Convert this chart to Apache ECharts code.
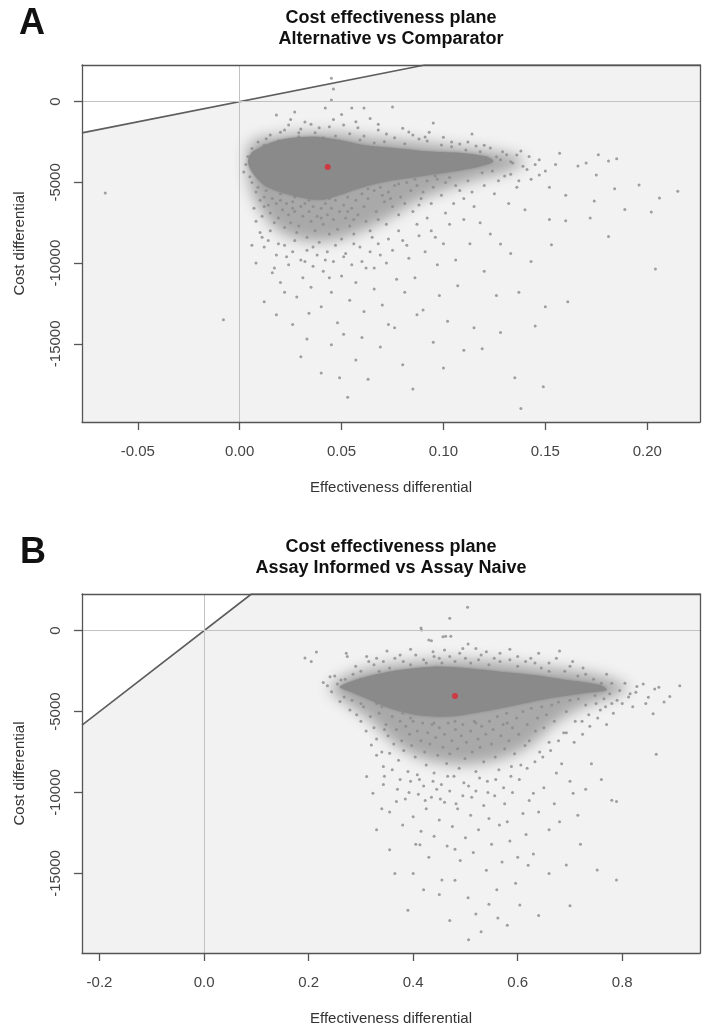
<!DOCTYPE html>
<html>
<head>
<meta charset="utf-8">
<title>Cost effectiveness planes</title>
<script src="https://cdn.jsdelivr.net/npm/echarts@6/dist/echarts.min.js"></script>
<style>
  html, body { margin: 0; padding: 0; background: #fff; }
  #main { width: 704px; height: 1032px; }
</style>
</head>
<body>
<div id="main"></div>
<script>
// threshold slope of the diagonal (cost per unit of effect)
const wtp = 25000;

// axis limits and tick labels
const xRangeA = [-0.0774, 0.2259];
const yRangeA = [-19840, 2270];
const xTicksA = [-0.05, 0, 0.05, 0.10, 0.15, 0.20];
const xRangeB = [-0.2335, 0.9487];
const yRangeB = [-19915, 2265];
const xTicksB = [-0.2, 0, 0.2, 0.4, 0.6, 0.8];
const yTicks = [0, -5000, -10000, -15000];

// mean of the simulations (red dot)
const meanA = [0.0432, -4040];
const meanB = [0.480, -4030];

// outline of the solid, saturated part of each cloud
const coreA = [[0.0065,-3094],[0.0196,-2370],[0.0360,-2166],[0.0491,-2370],[0.0606,-2680],[0.0769,-2885],[0.0933,-3094],[0.1096,-3193],[0.1211,-3403],[0.1244,-3713],[0.1178,-4022],[0.1047,-4332],[0.0884,-4641],[0.0720,-4950],[0.0589,-5359],[0.0491,-5774],[0.0393,-6083],[0.0246,-5774],[0.0131,-5260],[0.0065,-4431],[0.0041,-3713]];
const coreB = [[0.2597,-3457],[0.3108,-2840],[0.3746,-2426],[0.4383,-2222],[0.5022,-2321],[0.5660,-2531],[0.6297,-2735],[0.6936,-3043],[0.7574,-3352],[0.7702,-3660],[0.7254,-3864],[0.6617,-4173],[0.5979,-4587],[0.5340,-5000],[0.4703,-5309],[0.4065,-5204],[0.3554,-4790],[0.3172,-4278],[0.2789,-3766]];

// outline of the crowded, speckled zone round each core
const haloA = [[0.0039,-2865],[0.0088,-2300],[0.0196,-2100],[0.0344,-1900],[0.0491,-1950],[0.0638,-2200],[0.0835,-2450],[0.1031,-2750],[0.1228,-3050],[0.1350,-3350],[0.1399,-3793],[0.1301,-4350],[0.1154,-4845],[0.1007,-5464],[0.0884,-6083],[0.0761,-7011],[0.0638,-7815],[0.0516,-8434],[0.0383,-8682],[0.0260,-8434],[0.0172,-7815],[0.0108,-6826],[0.0064,-5773],[0.0039,-4536]];
const haloB = [[0.2406,-3537],[0.2693,-2796],[0.3076,-2400],[0.3554,-2100],[0.4128,-1900],[0.4703,-1800],[0.5277,-1850],[0.5851,-2000],[0.6425,-2250],[0.6999,-2450],[0.7535,-2750],[0.7918,-3150],[0.8110,-3537],[0.7803,-4093],[0.7344,-4587],[0.6923,-5266],[0.6616,-6006],[0.6329,-6871],[0.5947,-7611],[0.5468,-8105],[0.4894,-8291],[0.4320,-8044],[0.3880,-7488],[0.3516,-6624],[0.3210,-5636],[0.2904,-4895],[0.2636,-4278]];

// individual simulations outside the solid core, panel A
const pointsA = [
  [0.045,1450],[0.046,780],[0.045,100],[0.042,-390],[0.055,-390],[0.061,-390],[0.075,-330],[0.027,-640],[0.018,-820],[0.095,-1320],[0.114,-2000],
  [0.024,-1440],[0.032,-1260],[0.039,-1620],[0.051,-1440],[0.068,-1750],[0.083,-1880],[0.029,-1930],[0.015,-2060],[0.022,-1750],[0.037,-1930],[0.054,-1990],[0.061,-2120],[0.076,-2240],[0.088,-2310],[0.013,-2300],[0.009,-2500],[0.019,-2430],[0.047,-2120],[0.029,-2180],[0.041,-2240],[0.059,-2370],[0.071,-2490],[0.081,-2610],[0.099,-2680],[0.104,-2800],[0.111,-2990],[0.118,-3100],[0.126,-3420],[0.092,-2430],[0.066,-2560],[0.035,-1400],[0.046,-1100],[0.058,-1620],[0.072,-2000],[0.091,-2190],[0.104,-2500],[0.116,-2740],[0.123,-2870],[0.131,-3290],[0.133,-3720],[0.108,-2620],[0.085,-2060],[0.006,-2900],[0.004,-3400],[0.003,-3900],[0.002,-4350],[0.005,-4650],
  [0.128,-3600],[0.134,-3800],[0.141,-4200],[0.147,-4550],[0.157,-3200],[0.166,-3980],[0.170,-3800],[0.175,-4550],[0.176,-3290],[0.181,-3670],[0.185,-3540],[0.147,-3600],[0.155,-3900],[0.138,-3050],[0.143,-4800],[0.137,-4900],[0.152,-5300],[0.160,-5800],[0.174,-6150],[0.184,-5400],[0.196,-5160],[0.206,-5960],[0.215,-5550],[0.189,-6680],[0.202,-6830],[0.172,-7200],[0.160,-7370],[0.152,-7300],[0.153,-8860],[0.181,-8350],[0.204,-10370],[0.143,-9900],[0.133,-9400],[0.128,-8820],[0.123,-8200],[0.118,-7500],[0.115,-6500],[0.125,-5700],[0.132,-6300],[0.140,-6700],[0.150,-12700],[0.161,-12400],[0.137,-11800],[0.145,-13900],[0.108,-5500],[0.112,-4900],[0.119,-4400],[0.124,-4300],[0.130,-4600],[0.136,-5300],
  [0.006,-5000],[0.008,-5600],[0.010,-6100],[0.007,-6600],[0.012,-5900],[0.011,-7100],[0.014,-6400],[0.016,-6000],[0.015,-6900],[0.018,-6300],[0.017,-7500],[0.020,-6100],[0.021,-6700],[0.019,-7200],[0.023,-6300],[0.024,-7000],[0.022,-7800],[0.026,-6200],[0.027,-6800],[0.025,-7500],[0.028,-8100],[0.030,-6500],[0.031,-7100],[0.029,-7700],[0.032,-6300],[0.033,-8400],[0.034,-6800],[0.035,-7400],[0.036,-6500],[0.037,-8000],[0.038,-7100],[0.040,-6600],[0.041,-7600],[0.039,-8700],[0.042,-6300],[0.043,-7000],[0.044,-8200],[0.045,-6600],[0.046,-7300],[0.047,-6100],[0.048,-7900],[0.049,-6800],[0.050,-8500],[0.051,-6400],[0.052,-7200],[0.053,-5900],[0.054,-7700],[0.055,-6600],[0.056,-8200],[0.057,-6100],[0.058,-7000],[0.060,-5700],[0.061,-6500],[0.062,-7400],[0.063,-6000],[0.064,-8000],[0.066,-5500],[0.067,-6800],[0.068,-7300],[0.069,-5300],[0.071,-6200],[0.072,-7600],[0.073,-5600],[0.075,-6500],[0.076,-5200],[0.078,-7000],[0.079,-5900],[0.081,-6300],[0.082,-5000],[0.084,-5500],[0.085,-6800],[0.087,-5200],[0.089,-6000],[0.090,-5600],[0.092,-4900],[0.094,-6300],[0.095,-5300],[0.097,-4800],[0.099,-5800],[0.101,-5000],[0.103,-4700],[0.106,-5200],[0.009,-5300],[0.013,-5500],[0.020,-5700],[0.027,-5900],[0.034,-6100],[0.044,-6000],[0.053,-6800],[0.063,-5400],[0.070,-5800],[0.078,-5100],[0.086,-4800],[0.096,-4600],[0.012,-6500],[0.026,-6600],[0.040,-7200],[0.056,-7300],[0.074,-6000],[0.088,-6400],
  [0.010,-8100],[0.012,-9000],[0.014,-8600],[0.016,-10600],[0.018,-9500],[0.020,-11200],[0.022,-8900],[0.024,-10100],[0.026,-9300],[0.028,-12100],[0.030,-9800],[0.031,-10900],[0.033,-9200],[0.035,-11500],[0.036,-10200],[0.038,-9500],[0.040,-12700],[0.041,-10500],[0.043,-9300],[0.045,-11800],[0.046,-9900],[0.048,-13700],[0.050,-10800],[0.052,-9400],[0.054,-12300],[0.055,-10100],[0.057,-11200],[0.059,-9000],[0.061,-13000],[0.062,-10300],[0.064,-9300],[0.066,-11600],[0.068,-8800],[0.070,-12600],[0.072,-10000],[0.075,-9200],[0.077,-11000],[0.080,-8600],[0.083,-9700],[0.086,-10900],[0.088,-8300],[0.091,-9300],[0.094,-8000],[0.097,-10100],[0.100,-8800],[0.103,-7600],[0.106,-9800],[0.110,-7300],[0.113,-8800],[0.008,-10000],[0.006,-8900],[-0.008,-13500],[-0.066,-5660],[0.026,-13800],[0.045,-15050],[0.033,-14700],[0.051,-14400],[0.057,-16000],[0.053,-18300],[0.069,-15200],[0.076,-14000],[0.080,-16300],[0.095,-14900],[0.102,-13600],[0.098,-12000],[0.110,-15400],[0.115,-14000],[0.119,-15300],[0.135,-17100],[0.138,-19000],[0.149,-17650],[0.085,-17800],[0.063,-17200],[0.040,-16800],[0.018,-13200],[0.012,-12400],[0.090,-12900],[0.107,-11400],[0.120,-10500],[0.126,-12000],[0.073,-13800],
  [0.008,-7400],[0.011,-8400],[0.015,-8000],[0.019,-8800],[0.023,-9600],[0.027,-8600],[0.032,-9900],[0.036,-9000],[0.042,-9800],[0.047,-8900],[0.051,-9600],[0.056,-8800],[0.060,-9900],[0.065,-8400],[0.069,-9500],[0.073,-8500],[0.078,-8000],[0.082,-8900],[0.087,-7600],[0.092,-7200],[0.096,-8400],[0.101,-6900],[0.105,-6300],[0.110,-6000],[0.114,-5600],[0.120,-5200],[0.127,-4900],[0.133,-4500],[0.139,-4000],[0.145,-3900],[0.150,-4300],[0.142,-3400],[0.136,-3300],[0.129,-3100],[0.120,-2700],[0.112,-2500],[0.100,-2200],[0.093,-1900],[0.080,-1650],[0.068,-1400],[0.057,-1250],[0.044,-1550],[0.030,-1700],[0.020,-1900],[0.012,-2700],[0.025,-1100],[0.050,-800],[0.064,-1050],[0.017,-10300],[0.034,-13100],[0.060,-14600],[0.087,-13200],[0.044,-10900],[0.066,-10300],[0.081,-11800],[0.022,-11800],[0.030,-15800],[0.049,-17100],[0.100,-16500],[0.128,-14300]
];

// individual simulations outside the solid core, panel B
const pointsB = [
  [0.272,-1400],[0.274,-1600],[0.311,-1600],[0.343,-1900],[0.381,-1900],[0.438,-1300],[0.489,-1400],[0.540,-1300],[0.566,-1400],[0.566,-1900],[0.633,-2000],[0.674,-1700],[0.290,-2200],[0.300,-2500],[0.325,-2100],[0.335,-2500],[0.355,-2300],[0.365,-1700],[0.395,-2100],[0.405,-1500],[0.420,-1800],[0.425,-2000],[0.450,-1700],[0.455,-2000],[0.470,-1600],[0.480,-1900],[0.500,-1700],[0.510,-2000],[0.525,-1800],[0.545,-2100],[0.555,-1700],[0.585,-1800],[0.600,-2200],[0.615,-1900],[0.645,-2300],[0.660,-2500],[0.690,-2500],[0.700,-2200],[0.715,-2800],[0.730,-2700],[0.745,-3000],[0.760,-3250],[0.780,-3250],[0.805,-3250],[0.828,-3450],[0.850,-4110],[0.891,-4070],[0.910,-3400],[0.859,-5140],[0.865,-7630],[0.789,-10560],[0.795,-3700],[0.815,-3900],[0.776,-3900],[0.790,-4300],[0.765,-4200],[0.750,-4500],[0.820,-4700],[0.840,-3300],[0.862,-3600],[0.250,-2800],[0.241,-2840],[0.244,-3770],[0.255,-3300],[0.262,-3050],[0.268,-4100],[0.260,-4380],[0.279,-4900],[0.292,-5200],[0.236,-3400],[0.228,-3200],[0.193,-1690],[0.215,-1320],[0.205,-1900],[0.416,40],[0.457,-370],[0.462,-350],[0.472,-350],[0.435,-620],[0.505,-820],[0.470,770],[0.504,1440],[0.415,170],[0.430,-570],[0.520,-1100],[0.585,-1150],[0.350,-1250],[0.395,-1150],[0.640,-1400],[0.680,-1250],
  [0.300,-5600],[0.310,-6200],[0.305,-4700],[0.320,-7060],[0.318,-5300],[0.325,-6000],[0.330,-6700],[0.335,-5100],[0.340,-7500],[0.343,-8400],[0.348,-5800],[0.352,-6500],[0.355,-7570],[0.360,-5300],[0.363,-7000],[0.368,-6100],[0.372,-8000],[0.375,-5600],[0.378,-6800],[0.382,-7400],[0.386,-5900],[0.390,-8700],[0.393,-6400],[0.397,-7100],[0.400,-5600],[0.404,-7800],[0.408,-6200],[0.412,-9200],[0.415,-6800],[0.418,-5700],[0.422,-7500],[0.425,-8300],[0.428,-6300],[0.432,-7000],[0.436,-5800],[0.440,-8800],[0.443,-6600],[0.447,-7700],[0.450,-6000],[0.454,-9500],[0.457,-7200],[0.460,-6400],[0.464,-8200],[0.467,-5700],[0.470,-7600],[0.474,-6800],[0.478,-9000],[0.481,-6100],[0.485,-7300],[0.488,-8500],[0.492,-6500],[0.495,-5800],[0.499,-7900],[0.502,-6900],[0.506,-9600],[0.510,-6200],[0.513,-7500],[0.517,-5600],[0.520,-8700],[0.524,-6700],[0.528,-7200],[0.531,-5900],[0.535,-8100],[0.539,-6400],[0.542,-9300],[0.546,-5600],[0.550,-7000],[0.553,-6100],[0.557,-7800],[0.561,-5300],[0.564,-8600],[0.568,-6500],[0.572,-5800],[0.575,-7300],[0.579,-5100],[0.583,-6800],[0.587,-9000],[0.590,-6000],[0.594,-7600],[0.598,-5400],[0.602,-6400],[0.606,-8300],[0.610,-5000],[0.614,-7100],[0.618,-5800],[0.622,-6800],[0.626,-4800],[0.630,-10040],[0.634,-6200],[0.638,-5400],[0.642,-7500],[0.646,-4700],[0.650,-6000],[0.655,-5200],[0.660,-6900],[0.665,-4600],[0.670,-5600],[0.674,-8800],[0.678,-4400],[0.684,-8230],[0.688,-6300],[0.693,-5000],[0.700,-4300],[0.706,-10040],[0.710,-5600],[0.716,-4200],[0.724,-6400],[0.730,-4600],[0.741,-8230],[0.736,-5200],[0.748,-4000],[0.758,-4900],[0.770,-5800],[0.780,-4500],[0.440,-5700],[0.520,-5700],[0.480,-5600],[0.380,-5100],[0.580,-5700],[0.340,-4700],[0.330,-4500],[0.345,-6100],[0.395,-5400],
  [0.311,-9010],[0.323,-10040],[0.368,-10560],[0.343,-9500],[0.355,-11200],[0.370,-9800],[0.380,-12000],[0.385,-10400],[0.395,-9300],[0.400,-11500],[0.405,-13200],[0.410,-10100],[0.415,-12400],[0.420,-9600],[0.425,-11000],[0.430,-14000],[0.435,-10300],[0.440,-12700],[0.445,-9800],[0.450,-11700],[0.455,-15400],[0.460,-10600],[0.465,-13300],[0.470,-9900],[0.475,-12100],[0.480,-15420],[0.485,-11000],[0.490,-14200],[0.495,-10200],[0.500,-12800],[0.505,-16500],[0.510,-11400],[0.515,-13700],[0.520,-9900],[0.525,-12300],[0.530,-18600],[0.535,-10800],[0.540,-14800],[0.545,-11600],[0.550,-13200],[0.556,-10200],[0.562,-17760],[0.565,-12000],[0.570,-14300],[0.575,-10700],[0.580,-11800],[0.585,-13000],[0.590,-10000],[0.596,-15600],[0.604,-16950],[0.610,-11300],[0.616,-12600],[0.622,-10500],[0.630,-13800],[0.640,-11200],[0.650,-9700],[0.660,-12300],[0.670,-10700],[0.680,-11800],[0.693,-14480],[0.700,-9300],[0.715,-11400],[0.730,-9800],[0.752,-14790],[0.789,-15400],[0.780,-10470],[0.760,-9200],[0.390,-17270],[0.355,-13540],[0.413,-13230],[0.506,-19100],[0.470,-17900],[0.520,-17500],[0.450,-16300],[0.560,-16000],[0.640,-17600],[0.700,-17000],[0.330,-12300],[0.365,-15000],[0.620,-14500],[0.580,-18200],
  [0.330,-7700],[0.345,-9000],[0.360,-8600],[0.375,-9200],[0.392,-10000],[0.408,-8900],[0.423,-10500],[0.438,-9300],[0.452,-10400],[0.466,-9000],[0.482,-10700],[0.497,-9400],[0.512,-10300],[0.527,-9100],[0.543,-10000],[0.558,-9200],[0.573,-9700],[0.588,-8400],[0.603,-9200],[0.618,-8500],[0.633,-8100],[0.648,-7800],[0.663,-7400],[0.678,-6800],[0.693,-6300],[0.708,-6900],[0.723,-5600],[0.738,-5900],[0.753,-5400],[0.768,-4700],[0.783,-5100],[0.800,-4500],[0.812,-4100],[0.826,-3800],[0.845,-4500],[0.870,-3500],[0.880,-4400],[0.300,-3000],[0.285,-2700],[0.270,-3000],[0.283,-4300],[0.300,-4500],[0.315,-1900],[0.330,-1700],[0.375,-1500],[0.440,-1600],[0.460,-1200],[0.495,-1100],[0.530,-1500],[0.600,-1600],[0.625,-1700],[0.660,-2000],[0.705,-1900],[0.725,-2300],[0.770,-2700],[0.420,-16000],[0.480,-13500],[0.545,-16900],[0.600,-14000],[0.660,-15000],[0.720,-13200],[0.400,-15000],[0.340,-11000]
];

const FONT = '"Liberation Sans", Arial, Helvetica, sans-serif';
const BOX = '#555555';
const DOT = '#8a8a8a';
// a halo outline is drawn off to the side and only its blurred shadow is
// brought back, which gives the crowded zone a soft, feathered edge
const SHIFT = 3000;

const chart = echarts.init(document.getElementById('main'));

function bottomAxis(grid, range, ticks, digits) {
  return {
    type: 'value', gridIndex: grid, min: range[0], max: range[1], z: 10,
    name: 'Effectiveness differential', nameLocation: 'middle', nameGap: 58,
    nameTextStyle: { fontFamily: FONT, fontSize: 15, color: '#333' },
    axisLine: { show: true, onZero: false, lineStyle: { color: BOX, width: 1.3 } },
    axisTick: { show: true, length: 8, customValues: ticks, lineStyle: { color: BOX, width: 1.3 } },
    axisLabel: { customValues: ticks, margin: 22, fontFamily: FONT, fontSize: 15, color: '#444',
      formatter: v => v.toFixed(digits) },
    splitLine: { show: false }
  };
}

function leftAxis(grid, range) {
  return {
    type: 'value', gridIndex: grid, min: range[0], max: range[1], z: 10,
    name: 'Cost differential', nameLocation: 'middle', nameGap: 55,
    nameTextStyle: { fontFamily: FONT, fontSize: 15, color: '#333' },
    axisLine: { show: true, onZero: false, lineStyle: { color: BOX, width: 1.3 } },
    axisTick: { show: true, length: 8, customValues: yTicks, lineStyle: { color: BOX, width: 1.3 } },
    axisLabel: { customValues: yTicks, rotate: 90, margin: 19, fontFamily: FONT, fontSize: 15, color: '#444',
      formatter: v => String(v) },
    splitLine: { show: false }
  };
}

function frameAxis(grid, range, pos) {
  return {
    type: 'value', gridIndex: grid, min: range[0], max: range[1], position: pos, z: 10,
    axisLine: { show: true, onZero: false, lineStyle: { color: BOX, width: 1.3 } },
    axisTick: { show: false }, axisLabel: { show: false }, splitLine: { show: false }
  };
}

function blob(i, outline, fill, blur, shift) {
  return {
    type: 'custom', xAxisIndex: i, yAxisIndex: i, z: 3, silent: true, clip: false,
    data: [outline[0]],
    renderItem: (params, api) => ({
      type: 'polygon',
      shape: {
        points: outline.map(p => { const c = api.coord(p); return [c[0] + shift, c[1]]; }),
        smooth: 0.3
      },
      style: { fill: fill, shadowColor: fill, shadowBlur: blur, shadowOffsetX: -shift, shadowOffsetY: 0 }
    })
  };
}

function panelSeries(i, xr, yr, halo, core, pts, mean) {
  return [
    {
      // shaded region below the threshold line
      type: 'line', xAxisIndex: i, yAxisIndex: i, z: 1, silent: true,
      data: [[xr[0], wtp * xr[0]], [yr[1] / wtp, yr[1]], [xr[1], yr[1]]],
      symbol: 'none',
      lineStyle: { color: '#5e5e5e', width: 1.6 },
      areaStyle: { color: '#f2f2f2', opacity: 1, origin: 'start' }
    },
    {
      type: 'line', xAxisIndex: i, yAxisIndex: i, z: 2, silent: true, data: [],
      markLine: {
        silent: true, symbol: 'none', label: { show: false },
        lineStyle: { color: '#c2c2c2', width: 1, type: 'solid' },
        data: [{ xAxis: 0 }, { yAxis: 0 }]
      }
    },
    blob(i, halo, '#a9a9a9', 14, SHIFT),
    blob(i, core, DOT, 3, 0),
    {
      type: 'scatter', xAxisIndex: i, yAxisIndex: i, z: 3, silent: true,
      data: pts, symbolSize: 3, itemStyle: { color: DOT }
    },
    {
      type: 'scatter', xAxisIndex: i, yAxisIndex: i, z: 4, silent: true,
      data: [mean], symbolSize: 6, itemStyle: { color: '#e0262f' }
    }
  ];
}

function label(text, x, y, size, weight) {
  return {
    type: 'text', x: x, y: y, z: 20,
    style: { text: text, fontFamily: FONT, fontSize: size, fontWeight: weight, fill: '#111',
      align: 'center', verticalAlign: 'middle' }
  };
}

chart.setOption({
  animation: false,
  backgroundColor: '#fff',
  grid: [
    { left: 82, top: 65, width: 618, height: 357 },
    { left: 82, top: 594, width: 618, height: 359 }
  ],
  xAxis: [
    bottomAxis(0, xRangeA, xTicksA, 2),
    bottomAxis(1, xRangeB, xTicksB, 1),
    frameAxis(0, xRangeA, 'top'),
    frameAxis(1, xRangeB, 'top')
  ],
  yAxis: [
    leftAxis(0, yRangeA),
    leftAxis(1, yRangeB),
    frameAxis(0, yRangeA, 'right'),
    frameAxis(1, yRangeB, 'right')
  ],
  series: [
    ...panelSeries(0, xRangeA, yRangeA, haloA, coreA, pointsA, meanA),
    ...panelSeries(1, xRangeB, yRangeB, haloB, coreB, pointsB, meanB)
  ],
  graphic: [
    label('A', 32, 24, 36, 'bold'),
    label('Cost effectiveness plane', 391, 18, 18, 'bold'),
    label('Alternative vs Comparator', 391, 39, 18, 'bold'),
    label('B', 33, 553, 36, 'bold'),
    label('Cost effectiveness plane', 391, 547, 18, 'bold'),
    label('Assay Informed vs Assay Naive', 391, 568, 18, 'bold')
  ]
});
</script>
</body>
</html>
